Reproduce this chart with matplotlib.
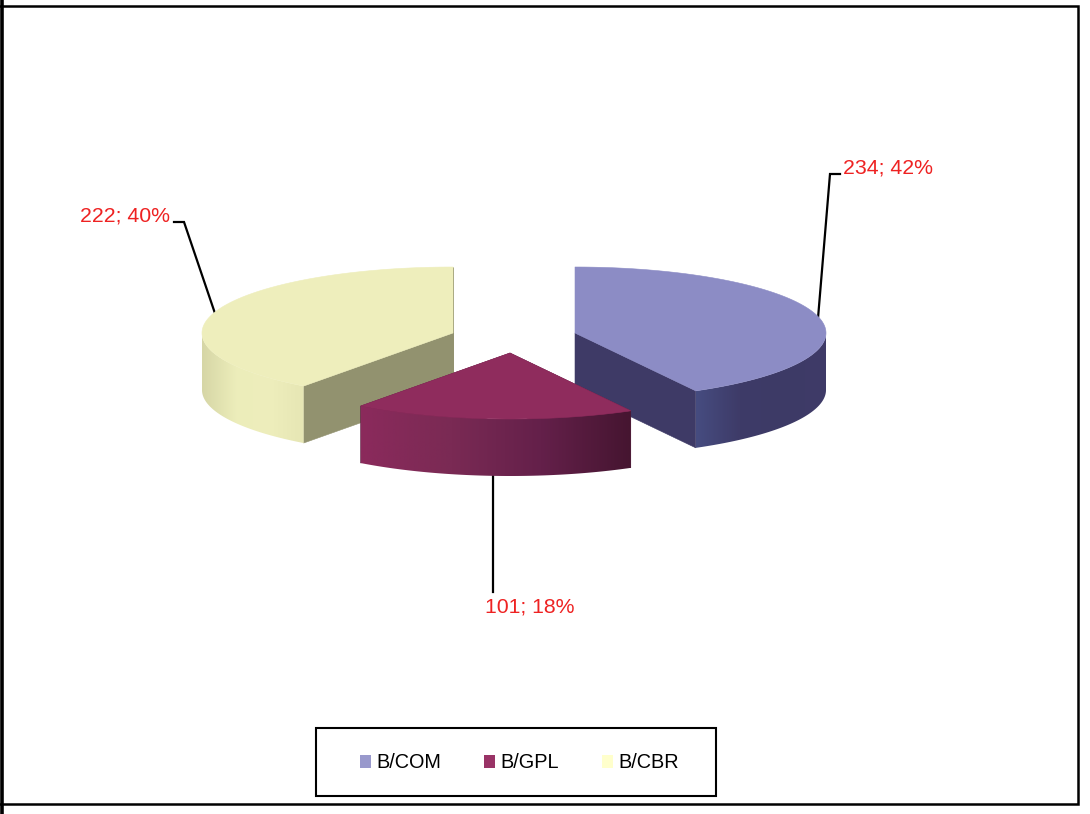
import numpy as np
import matplotlib
matplotlib.use("Agg")
import matplotlib.pyplot as plt
from matplotlib.colors import LinearSegmentedColormap
from matplotlib.patches import Polygon, Rectangle

categories = ["B/COM", "B/GPL", "B/CBR"]
values = [234, 101, 222]
percents = [42, 18, 40]

# styles / layout
centers = [(575, 333), (510, 353), (453, 333)]
RX, RY, DEPTH = 251, 66, 57
top_colors = ["#8c8cc5", "#8f2c5d", "#eeeebc"]
cut_colors = ["#3e3a66", "#5c1c40", "#92926f"]
legend_colors = ["#9999cc", "#993366", "#ffffcc"]
side_ramps = [
    ["#464c80", "#3e3b68", "#3d3a66", "#3f3b68"],
    ["#8b2a5c", "#7a2a54", "#64204a", "#451530"],
    ["#d6d6a6", "#ecedba", "#eeeebc", "#e6e6b4"],
]
label_positions = [(843, 168), (485, 607), (170, 216)]
elbows = [[(830, 174), (840, 174)], [(493, 592)], [(184, 222), (174, 222)]]

fig = plt.figure(figsize=(10.9, 8.14), dpi=100)
ax = fig.add_axes([0, 0, 1, 1])
ax.axis("off")
plt.rcParams["font.family"] = ["Liberation Sans", "DejaVu Sans"]


def rim(center, deg):
    a = np.radians(deg)
    return center[0] + RX * np.sin(a), center[1] - RY * np.cos(a)


total = sum(values)
edges = np.concatenate([[0], np.cumsum(values)]) / total * 360.0


def draw_slice(i, z):
    c = centers[i]
    a0, a1 = edges[i], edges[i + 1]
    th = np.linspace(a0, a1, 160)
    xs, ys = rim(c, th)
    # flat cut faces underneath the rim and the top
    for a in (a0, a1):
        px, py = rim(c, a)
        ax.add_patch(Polygon([c, (px, py), (px, py + DEPTH), (c[0], c[1] + DEPTH)],
                             closed=True, fc=cut_colors[i], ec=cut_colors[i], lw=0.4, zorder=z))
    # visible rim, shaded from left to right
    vis = (th >= 90) & (th <= 270)
    vx, vy = xs[vis], ys[vis]
    order = np.argsort(vx)
    vx, vy = vx[order], vy[order]
    outline = np.vstack([np.column_stack([vx, vy]),
                         np.column_stack([vx[::-1], vy[::-1] + DEPTH])])
    clip = Polygon(outline, closed=True, fc="none", ec="none", transform=ax.transData)
    ax.add_patch(clip)
    cmap = LinearSegmentedColormap.from_list("r", side_ramps[i])
    im = ax.imshow(np.linspace(0, 1, 256).reshape(1, -1), cmap=cmap, aspect="auto",
                   extent=(vx.min(), vx.max(), vy.max() + DEPTH, vy.min()),
                   zorder=z + 0.1, interpolation="bilinear")
    im.set_clip_path(clip)
    # top face
    ax.add_patch(Polygon(np.vstack([[c], np.column_stack([xs, ys])]), closed=True,
                         fc=top_colors[i], ec=top_colors[i], lw=0.4, zorder=z + 0.2))


for z, i in enumerate((2, 0, 1)):
    draw_slice(i, 10 + z)

ax.set_xlim(0, 1090)
ax.set_ylim(814, 0)

# leader lines and data labels
for i, cat in enumerate(categories):
    mid = (edges[i] + edges[i + 1]) / 2
    ax_, ay_ = rim(centers[i], mid)
    if 90 < mid < 270:
        ay_ += DEPTH
    pts = [(ax_, ay_)] + elbows[i]
    ax.plot(*zip(*pts), color="black", lw=1.6, zorder=5, solid_joinstyle="miter")
    ha = "right" if i == 2 else "left"
    ax.text(*label_positions[i], f"{values[i]}; {percents[i]}%", color="#ee2222",
            fontsize=15.3, ha=ha, va="center", zorder=20)

# legend
ax.add_patch(Rectangle((315.5, 727.5), 400.5, 68.5, fc="white", ec="black", lw=1.5, zorder=3))
handles = [Rectangle((0, 0), 1, 1, fc=c, ec="none") for c in legend_colors]
ax.legend(handles, categories, ncol=3, frameon=False, loc="center",
          bbox_to_anchor=(519.5, 763), bbox_transform=ax.transData,
          fontsize=14.3, handlelength=0.56, handleheight=0.56, handletextpad=0.26,
          columnspacing=2.15, borderpad=0, borderaxespad=0)

# outer frame
ax.plot([1.5, 1.5], [0, 814], color="black", lw=2.6, zorder=4, clip_on=False)
ax.plot([0, 1078, 1078, 0], [5.5, 5.5, 804, 804], color="black", lw=1.8, zorder=4,
        solid_joinstyle="miter")

fig.savefig("out.png", dpi=100, facecolor="white")
